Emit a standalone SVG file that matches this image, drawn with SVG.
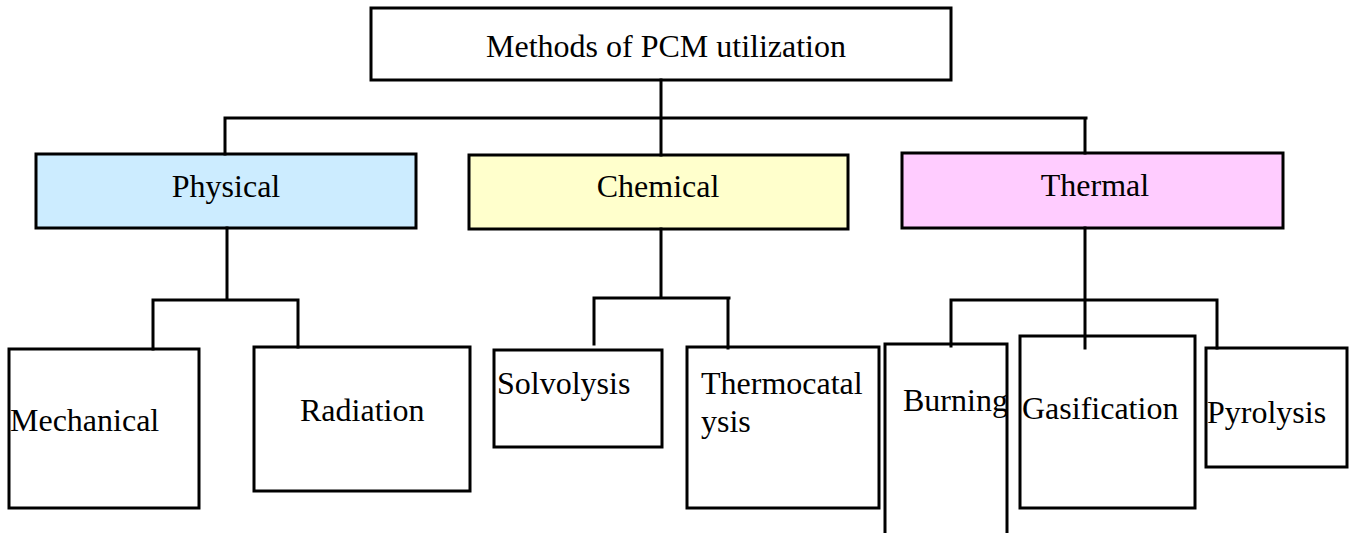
<svg xmlns="http://www.w3.org/2000/svg" width="1354" height="533" viewBox="0 0 1354 533">
<style>
.box{fill:#ffffff;stroke:#000000;stroke-width:3}
.phy{fill:#CCECFF}
.che{fill:#FFFFCC}
.the{fill:#FFCCFF}
.t{font-family:"Liberation Serif","Times New Roman",serif;font-size:32px;fill:#000000}
.c{text-anchor:middle}
.ln{fill:none;stroke:#000000;stroke-width:3;stroke-linecap:square}
</style>
<rect x="0" y="0" width="1354" height="533" fill="#ffffff"/>
<g id="node-root"><rect class="box" x="371" y="8" width="580" height="72"/><text class="t" x="486" y="57">Methods of PCM utilization</text></g>
<g id="node-physical"><rect class="box phy" x="36" y="154" width="380" height="74"/><text class="t c" x="226" y="197">Physical</text></g>
<g id="node-chemical"><rect class="box che" x="469" y="155" width="379" height="74"/><text class="t c" x="658" y="197">Chemical</text></g>
<g id="node-thermal"><rect class="box the" x="902" y="153" width="381" height="75"/><text class="t c" x="1095" y="196">Thermal</text></g>
<g id="node-mechanical"><rect class="box" x="9" y="349" width="190" height="159"/><text class="t" x="10" y="431">Mechanical</text></g>
<g id="node-radiation"><rect class="box" x="254" y="347" width="216" height="144"/><text class="t" x="300" y="421">Radiation</text></g>
<g id="node-solvolysis"><rect class="box" x="494" y="350" width="168" height="97"/><text class="t" x="497" y="394">Solvolysis</text></g>
<g id="node-thermocatalysis"><rect class="box" x="687" y="347" width="192" height="161"/><text class="t" x="701" y="394">Thermocatal</text><text class="t" x="701" y="432">ysis</text></g>
<g id="node-burning"><rect class="box" x="885" y="344" width="122" height="200"/><text class="t" x="903" y="411" font-size="31">Burning</text></g>
<g id="node-gasification"><rect class="box" x="1020" y="336" width="175" height="172"/><text class="t" x="1022" y="419">Gasification</text></g>
<g id="node-pyrolysis"><rect class="box" x="1206" y="348" width="141" height="119"/><text class="t" x="1207" y="423">Pyrolysis</text></g>
<g id="connectors">
<path class="ln" d="M661 80V155M225 118H1086M225 118V154M1085 118V153"/>
<path class="ln" d="M227 228V300M153 300H298M153 300V349M298 300V347"/>
<path class="ln" d="M661 229V298M594 298H729M594 298V344M728 298V348"/>
<path class="ln" d="M1085 228V348M951 300H1217M951 300V346M1217 300V348"/>
</g>
</svg>
